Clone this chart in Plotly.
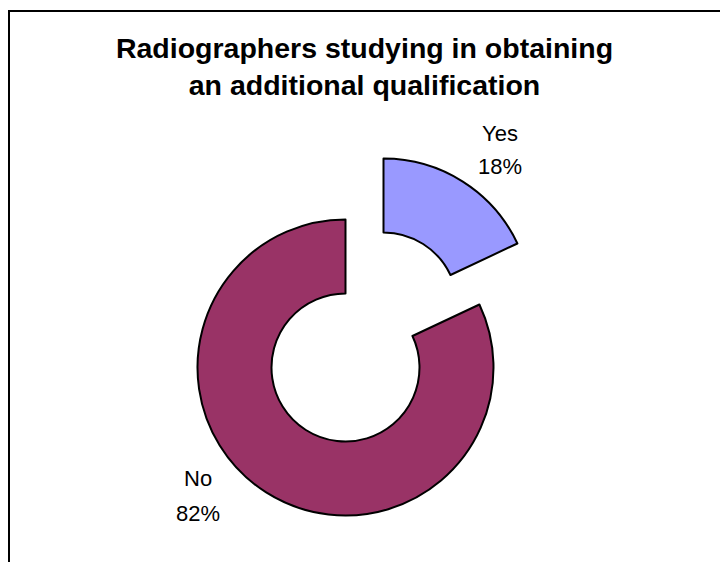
import plotly.graph_objects as go

# ---- data ----
categories = ["Yes", "No"]
values = [18, 82]
percent_labels = ["18%", "82%"]
colors = ["#9999FF", "#993366"]
title_lines = ["Radiographers studying in obtaining", "an additional qualification"]

W, H = 728, 562
OFF = 8  # page body margin offset in the screenshot
R = 148  # outer radius in px

def domain(cx, cy, r):
    cx -= OFF
    cy -= OFF
    return dict(x=[(cx - r) / W, (cx + r) / W],
                y=[1 - (cy + r) / H, 1 - (cy - r) / H])

clear = "rgba(0,0,0,0)"

fig = go.Figure()
# Main ring ("No" slice shown, "Yes" slot left empty)
fig.add_trace(go.Pie(
    labels=categories, values=values, sort=False, direction="clockwise",
    rotation=0, hole=0.5, textinfo="none", hoverinfo="label+percent",
    marker=dict(colors=[clear, colors[1]],
                line=dict(color=[clear, "black"], width=2)),
    domain=domain(345.5, 367.5, R), showlegend=False,
))
# Exploded "Yes" slice
fig.add_trace(go.Pie(
    labels=categories, values=values, sort=False, direction="clockwise",
    rotation=0, hole=0.5, textinfo="none", hoverinfo="label+percent",
    marker=dict(colors=[colors[0], clear],
                line=dict(color=["black", clear], width=2)),
    domain=domain(383.5, 306.5, R), showlegend=False,
))

label_pos = {"Yes": (500, 133, 167), "No": (198, 478, 513)}
annotations = []
for cat, pct in zip(categories, percent_labels):
    x, y1, y2 = label_pos[cat]
    for txt, yy in ((cat, y1), (pct, y2)):
        annotations.append(dict(
            text=txt, x=(x - OFF) / W, y=1 - (yy - OFF) / H, xref="paper", yref="paper",
            xanchor="center", yanchor="middle", showarrow=False,
            font=dict(family="Liberation Sans, Arial, sans-serif", size=22, color="black"),
        ))

fig.update_layout(
    width=W, height=H,
    margin=dict(l=0, r=0, t=0, b=0),
    paper_bgcolor="white", plot_bgcolor="white",
    title=dict(text="<b>" + "<br>".join(title_lines) + "</b>",
               x=(364.5 - OFF) / W, xanchor="center", xref="paper",
               y=1 - (58 - OFF) / H, yanchor="top", yref="container",
               font=dict(family="Liberation Sans, Arial, sans-serif", size=28.5, color="black")),
    annotations=annotations,
    shapes=[dict(type="rect", xref="paper", yref="paper",
                 x0=(8 - OFF + 1) / W, x1=1.2, y0=-0.2, y1=1 - (10 - OFF + 1) / H,
                 line=dict(color="black", width=2), fillcolor="rgba(0,0,0,0)")],
)

fig.write_html("out.html")
